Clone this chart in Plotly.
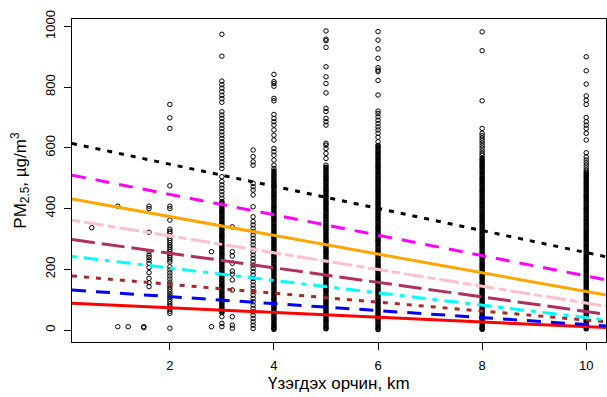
import plotly.graph_objects as go

# ---- data: visibility distance (km) columns and PM2.5 values
col_x = [0.5, 1.0, 1.2, 1.5, 1.6, 2.0, 2.8, 3.0, 3.2, 3.6, 4.0, 5.0, 6.0, 8.0, 10.0]

# individually visible observations per column
y_05 = [337]
y_10 = [408, 11]
y_12 = [11]
y_15 = [11, 8]
y_16 = [408, 400, 322, 258, 247, 239, 230, 220, 206, 189, 170, 156, 143]
y_20 = [743, 699, 664, 475, 408, 400, 362, 332, 325, 319, 302, 295, 288, 280, 273,
        266, 259, 252, 245, 238, 231, 224, 208, 198, 188, 178, 168, 158, 150, 142,
        134, 126, 118, 110, 102, 94, 86, 78, 70, 62, 55, 6]
y_28 = [258, 11]
y_30 = [974, 902, 820, 808, 797, 785, 773, 762, 750, 719, 708, 697, 686, 675, 664,
        653, 642, 631, 620, 609, 598, 587, 576, 565, 554, 543, 532, 505, 489, 478,
        467, 456, 445, 434, 423, 44, 22, 11]
y_32 = [340, 258, 244, 220, 194, 184, 165, 132, 44, 16, 6]
y_36 = [593, 571, 554, 543, 483, 472, 461, 445, 406, 373, 357, 346, 335, 324, 313,
        302, 291, 280, 269, 258, 247, 236, 225, 214, 203, 192, 181, 170, 159, 148,
        137, 126, 115, 104, 93, 82, 71, 60, 49, 38, 27, 16, 5]
y_40 = [842, 818, 812, 803, 763, 755, 710, 697, 686, 675, 659, 642, 626, 598, 587,
        576, 560, 543, 532]
y_50 = [985, 958, 953, 931, 867, 834, 812, 781, 730, 720, 697, 686, 675, 615, 609,
        598, 582, 565, 543]
y_60 = [983, 955, 926, 895, 864, 856, 851, 822, 774, 721, 713, 702, 691, 680, 669,
        659, 648, 635, 620]
y_80 = [982, 920, 755, 664, 648, 640, 632, 624, 616, 607, 599, 590, 582, 575]
y_100 = [900, 854, 810, 771, 757, 743, 700, 686, 675, 664, 648, 626, 584, 570, 560,
         551, 543, 534, 526]

# heavily overplotted cores of the columns (drawn as a solid band)
core_x = [3.0, 4.0, 5.0, 6.0, 8.0, 10.0]
c_30 = [418, 410, 401, 393, 386, 377, 369, 360, 352, 345, 336, 328, 319, 311, 304,
        295, 287, 278, 270, 263, 254, 246, 237, 229, 222, 213, 205, 196, 188, 181,
        172, 164, 155, 147, 140, 131, 123, 114, 106, 99, 90, 82, 73, 65, 58]
c_40 = [524, 515, 507, 498, 490, 483, 474, 466, 457, 449, 442, 433, 425, 416, 408,
        401, 392, 384, 375, 367, 360, 351, 343, 334, 326, 319, 310, 302, 293, 285,
        278, 269, 261, 252, 244, 237, 228, 220, 211, 203, 196, 187, 179, 170, 162,
        155, 146, 138, 129, 121, 114, 105, 97, 88, 80, 73, 64, 56, 47, 39,
        32, 23, 15, 8, 3]
c_50 = [536, 527, 519, 510, 502, 495, 486, 478, 469, 461, 454, 445, 437, 428, 420,
        413, 404, 396, 387, 379, 372, 363, 355, 346, 338, 331, 322, 314, 305, 297,
        290, 281, 273, 264, 256, 249, 240, 232, 223, 215, 208, 199, 191, 182, 174,
        167, 158, 150, 141, 133, 126, 117, 109, 100, 92, 85, 76, 68, 59, 51,
        44, 35, 27, 18, 10, 4]
c_60 = [608, 600, 591, 583, 576, 567, 559, 550, 542, 535, 526, 518, 509, 501, 494,
        485, 477, 468, 460, 453, 444, 436, 427, 419, 412, 403, 395, 386, 378, 371,
        362, 354, 345, 337, 330, 321, 313, 304, 296, 289, 280, 272, 263, 255, 248,
        239, 231, 222, 214, 207, 198, 190, 181, 173, 166, 157, 149, 140, 132, 125,
        116, 108, 99, 91, 84, 75, 67, 58, 50, 43, 34, 26, 17, 9, 2]
c_80 = [566, 558, 549, 541, 534, 525, 517, 508, 500, 493, 484, 476, 467, 459, 452,
        443, 435, 426, 418, 411, 402, 394, 385, 377, 370, 361, 353, 344, 336, 329,
        320, 312, 303, 295, 288, 279, 271, 262, 254, 247, 238, 230, 221, 213, 206,
        197, 189, 180, 172, 165, 156, 148, 139, 131, 124, 115, 107, 98, 90, 83,
        74, 66, 57, 49, 42, 33, 25, 16, 8, 3]
c_100 = [519, 510, 502, 493, 485, 478, 469, 461, 452, 444, 437, 428, 420, 411, 403,
         396, 387, 379, 370, 362, 355, 346, 338, 329, 321, 314, 305, 297, 288, 280,
         273, 264, 256, 247, 239, 232, 223, 215, 206, 198, 191, 182, 174, 165, 157,
         150, 141, 133, 124, 116, 109, 100, 92, 83, 75, 68, 59, 51, 42, 34,
         27, 18, 10, 4]

col_y = [y_05, y_10, y_12, y_15, y_16, y_20, y_28, y_30, y_32, y_36, y_40, y_50,
         y_60, y_80, y_100]
core_y = [c_30, c_40, c_50, c_60, c_80, c_100]

# quantile regression lines (tau 0.1 ... 0.9): intercept and slope
taus = [0.1, 0.2, 0.3, 0.4, 0.5, 0.6, 0.7, 0.8, 0.9]
intercepts = [89, 133, 180, 245, 301, 365, 435, 514, 619]
slopes = [-7.8, -11.5, -14.7, -20.4, -24.0, -27.6, -30.8, -33.6, -36.4]
line_colors = ["#FF0000", "#0000FF", "#A52A2A", "#00FFFF", "#B03060",
               "#FFC0CB", "#FFA500", "#FF00FF", "#000000"]
line_dashes = ["solid", "14px,10px", "5px,7px", "5px,7px,14px,7px", "23px,7px",
               "8px,4px,20px,4px", "solid", "14px,10px", "5px,7px"]

x_ticks = [2, 4, 6, 8, 10]
y_ticks = [0, 200, 400, 600, 800, 1000]
x_range = [0.12, 10.38]
y_range = [-39.4, 1024.4]

FONT = "Liberation Sans, Arial, sans-serif"


def flatten(xvals, yvals):
    xs, ys = [], []
    for cx, vals in zip(xvals, yvals):
        for v in vals:
            xs.append(cx)
            ys.append(v)
    return xs, ys


xs, ys = flatten(col_x, col_y)
cxs, cys = flatten(core_x, core_y)

fig = go.Figure()
fig.add_trace(go.Scatter(
    x=xs, y=ys, mode="markers",
    marker=dict(symbol="circle-open", size=4.5, color="black",
                line=dict(width=1, color="black")),
    hoverinfo="skip", showlegend=False))
fig.add_trace(go.Scatter(
    x=cxs, y=cys, mode="markers",
    marker=dict(symbol="circle-open", size=3.6, color="black",
                line=dict(width=1.9, color="black")),
    hoverinfo="skip", showlegend=False))

for a, b, c, d in zip(intercepts, slopes, line_colors, line_dashes):
    fig.add_trace(go.Scatter(
        x=[x_range[0], x_range[1]],
        y=[a + b * x_range[0], a + b * x_range[1]],
        mode="lines", line=dict(color=c, width=3, dash=d),
        hoverinfo="skip", showlegend=False))

fig.update_layout(
    width=607, height=397,
    margin=dict(l=72, r=1, t=19, b=55),
    paper_bgcolor="white", plot_bgcolor="white",
    font=dict(family=FONT, color="black", size=13),
    showlegend=False,
    xaxis=dict(range=x_range, tickvals=x_ticks, ticktext=[str(t) for t in x_ticks],
               showgrid=False, zeroline=False, showline=True, mirror=True,
               linecolor="black", linewidth=1, ticks="outside", ticklen=7,
               tickcolor="black", tickfont=dict(size=13), ticklabelstandoff=4),
    yaxis=dict(range=y_range, tickvals=y_ticks, ticktext=[str(t) for t in y_ticks],
               showgrid=False, zeroline=False, showline=True, mirror=True,
               linecolor="black", linewidth=1, ticks="outside", ticklen=7,
               tickcolor="black", tickangle=-90, tickfont=dict(size=13),
               ticklabelstandoff=4),
    annotations=[
        dict(text="Үзэгдэх орчин, km", xref="paper", yref="paper",
             x=0.5, y=-0.127, xanchor="center", yanchor="middle",
             showarrow=False, font=dict(size=17, family=FONT)),
        dict(text="PM<sub>2.5</sub>, µg/m<sup>3</sup>", xref="paper", yref="paper",
             x=-0.097, y=0.5, xanchor="center", yanchor="middle", textangle=-90,
             showarrow=False, font=dict(size=17, family=FONT)),
    ],
)

fig.write_html("out.html")
